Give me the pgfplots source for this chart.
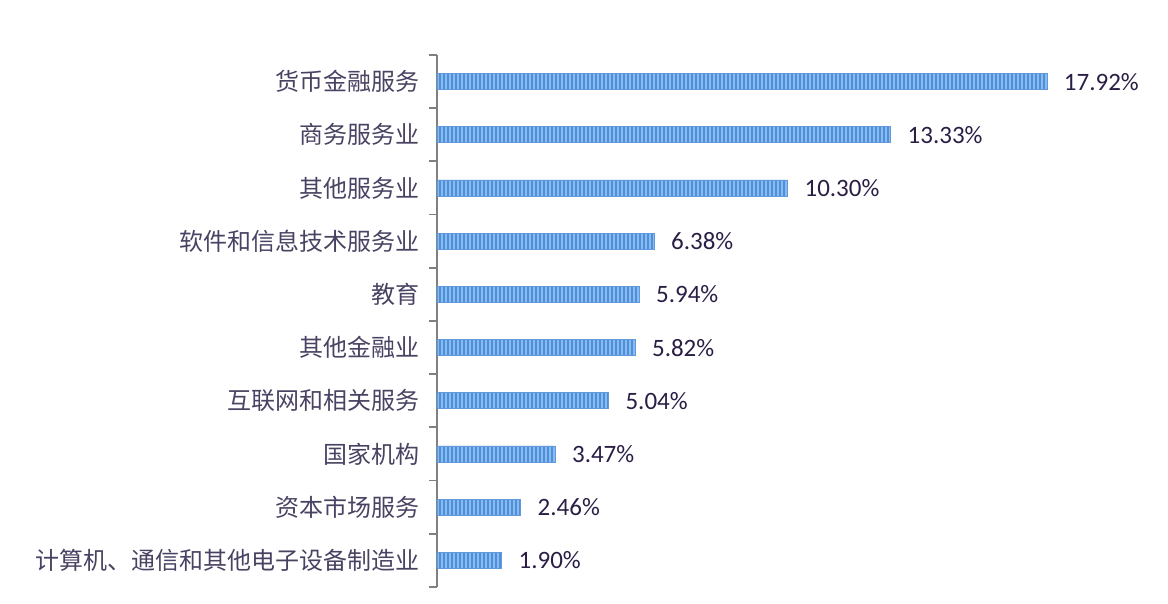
\documentclass[border=0pt]{standalone}
\usepackage{pgfplots}
\pgfplotsset{compat=1.18}
\usepackage{fontspec}
\setmainfont{Carlito}
\newfontfamily\cjk{Noto Sans CJK SC}
\usetikzlibrary{patterns.meta}
\definecolor{barblue}{HTML}{8ABBEE}
\definecolor{stripe}{HTML}{4F8ED9}
\definecolor{labtxt}{HTML}{4A4262}
\definecolor{valtxt}{HTML}{2A1E45}
\definecolor{axgray}{HTML}{808080}

\begin{document}
\begin{tikzpicture}
\path[use as bounding box] (0,0) rectangle (584pt,302pt);
\begin{axis}[
    at={(218.5pt,8.5pt)}, anchor=south west,
    scale only axis,
    width=340.4pt, height=266pt,
    xbar, bar width=8pt,
    xmin=0, xmax=20,
    ymin=-0.5, ymax=9.5, y dir=reverse,
    axis x line=none,
    axis y line*=left,
    axis line style={axgray, line width=0.9pt},
    ytick={0,...,9},
    yticklabels={货币金融服务, 商务服务业, 其他服务业, 软件和信息技术服务业, 教育,
                 其他金融业, 互联网和相关服务, 国家机构, 资本市场服务,
                 计算机、通信和其他电子设备制造业},
    minor ytick={-0.5,0.5,...,9.5},
    major tick length=0pt,
    minor tick length=4pt,
    tick align=outside,
    tick style={axgray, line width=0.9pt},
    yticklabel style={font=\cjk\fontsize{12}{14}\selectfont, text=labtxt, xshift=-5pt},
    point meta=x,
    nodes near coords={\pgfmathprintnumber[assume math mode=true,fixed,fixed zerofill,precision=2]{\pgfplotspointmeta}\%},
    every node near coord/.append style={anchor=west, xshift=5pt,
        font=\fontsize{12.5}{14}\selectfont, text=valtxt},
    clip=false,
]
\addplot[fill=barblue, draw=stripe!90!white, line width=0.3pt,
         postaction={pattern={Lines[angle=90,distance=2pt,line width=0.8pt]}, pattern color=stripe}]
    coordinates {
        (17.92,0)
        (13.33,1)
        (10.30,2)
        (6.38,3)
        (5.94,4)
        (5.82,5)
        (5.04,6)
        (3.47,7)
        (2.46,8)
        (1.90,9)
    };
\end{axis}
\end{tikzpicture}
\end{document}
